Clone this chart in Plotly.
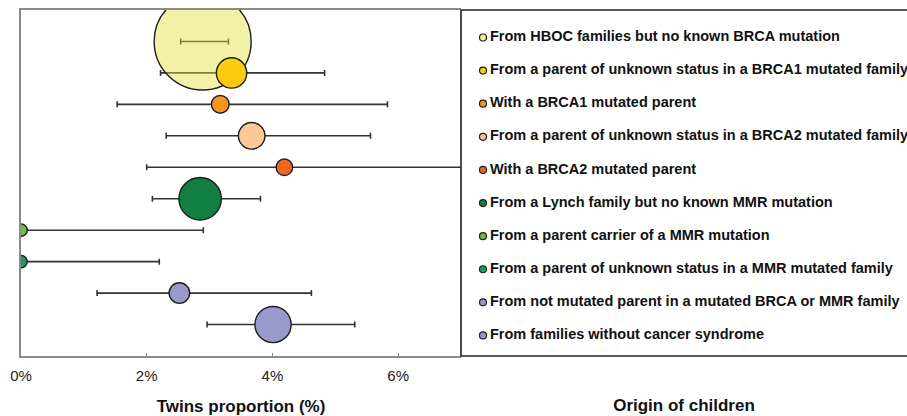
import math
import plotly.graph_objects as go

# Origin of children (one row each, top to bottom)
groups = [
    "From HBOC families but no known BRCA mutation",
    "From a parent of unknown status in a BRCA1 mutated family",
    "With a BRCA1 mutated parent",
    "From a parent of unknown status in a BRCA2 mutated family",
    "With a BRCA2 mutated parent",
    "From a Lynch family but no known MMR mutation",
    "From a parent carrier of a MMR mutation",
    "From a parent of unknown status in a MMR mutated family",
    "From not mutated parent in a mutated BRCA or MMR family",
    "From families without cancer syndrome",
]

# Twins proportion (%) with its confidence interval
twin_pct = [2.89, 3.35, 3.17, 3.67, 4.19, 2.85, 0.0, 0.0, 2.52, 4.01]
ci_low = [2.54, 2.22, 1.53, 2.31, 2.00, 2.09, 0.0, 0.0, 1.21, 2.96]
ci_high = [3.30, 4.83, 5.83, 5.56, 7.60, 3.81, 2.90, 2.20, 4.62, 5.31]

# Number of children in each group (bubble area)
children = [2400, 235, 80, 180, 70, 460, 40, 40, 108, 335]

x_tick_vals = [0, 2, 4, 6]
x_tick_text = ["0%", "2%", "4%", "6%"]

group_colors = [
    "rgba(228,222,60,0.45)",
    "#fccb0e",
    "#f7941e",
    "#fcc895",
    "#f26522",
    "#117f3f",
    "#6cbe45",
    "#1f9a5c",
    "#9a99cc",
    "#9a99cc",
]
legend_colors = [
    "#f3f0a0", "#fccb0e", "#f7941e", "#fcc895", "#f26522",
    "#117f3f", "#6cbe45", "#1f9a5c", "#9a99cc", "#9a99cc",
]

rows = list(range(1, len(groups) + 1))
err_plus = [h - p for h, p in zip(ci_high, twin_pct)]
err_minus = [p - l for p, l in zip(twin_pct, ci_low)]

# bubble diameter grows with the square root of the group size
max_diam = 97
sizeref = 2.0 * max(children) / (max_diam ** 2)

W, H = 907, 416
ML, MT, MB = 21, 10, 60
split = 440 / (W - ML)
FONT = "Liberation Sans, Arial, sans-serif"

fig = go.Figure()

# confidence intervals
fig.add_trace(go.Scatter(
    x=twin_pct, y=rows, mode="markers",
    marker=dict(size=1, opacity=0),
    error_x=dict(type="data", array=err_plus, arrayminus=err_minus,
                 color="#333333", thickness=1.6, width=3),
    hoverinfo="skip", showlegend=False,
))

# bubbles
fig.add_trace(go.Scatter(
    x=twin_pct, y=rows, mode="markers",
    marker=dict(size=children, sizemode="area", sizeref=sizeref,
                color=group_colors, opacity=1,
                line=dict(color="#1e1e1e", width=1.4)),
    text=groups, hovertemplate="%{text}<br>%{x:.2f}%<extra></extra>",
    showlegend=False,
))

# key panel: markers and labels on their own axes
fig.add_trace(go.Scatter(
    x=[22] * len(groups), y=rows, mode="markers",
    marker=dict(size=7, color=legend_colors, opacity=1,
                line=dict(color="#1e1e1e", width=1.2)),
    xaxis="x2", yaxis="y2", hoverinfo="skip", showlegend=False,
    cliponaxis=False,
))
fig.add_trace(go.Scatter(
    x=[29] * len(groups), y=rows, mode="text", text=groups,
    textposition="middle right",
    textfont=dict(family=FONT, size=14.5, color="#111111", weight="bold"),
    xaxis="x2", yaxis="y2", hoverinfo="skip", showlegend=False,
    cliponaxis=False,
))

fig.add_shape(type="rect", xref="paper", yref="paper",
              x0=split, x1=1.02, y0=0, y1=1,
              line=dict(color="#222222", width=1.6), layer="above")

fig.update_layout(
    width=W, height=H,
    margin=dict(l=ML, r=0, t=MT, b=MB, autoexpand=False),
    paper_bgcolor="white", plot_bgcolor="white",
    font=dict(family=FONT, color="#222222"),
    xaxis=dict(
        domain=[0, split], range=[0, 7],
        tickvals=x_tick_vals, ticktext=x_tick_text,
        ticks="inside", ticklen=3, tickcolor="#8a8a8a", tickwidth=1.4,
        tickfont=dict(size=15, color="#222222"), ticklabelstandoff=5,
        showline=True, linecolor="#8a8a8a", linewidth=1.5, mirror=True,
        showgrid=False, zeroline=False,
        title=dict(text="<b>Twins proportion (%)</b>",
                   font=dict(size=17, color="#111111"), standoff=21),
    ),
    yaxis=dict(
        domain=[0, 1], range=[11, 0],
        showticklabels=False, ticks="",
        showline=True, linecolor="#8a8a8a", linewidth=1.5,
        showgrid=False, zeroline=False,
    ),
    xaxis2=dict(
        domain=[split, 1], range=[0, 446], anchor="y2",
        showticklabels=False, ticks="", showline=False,
        showgrid=False, zeroline=False,
        title=dict(text="<b>Origin of children</b>",
                   font=dict(size=17, color="#111111"), standoff=43),
    ),
    yaxis2=dict(
        domain=[0, 1], range=[10.62, 0.17], anchor="x2",
        showticklabels=False, ticks="", showline=False,
        showgrid=False, zeroline=False,
    ),
    showlegend=False,
)

fig.write_html("out.html")
